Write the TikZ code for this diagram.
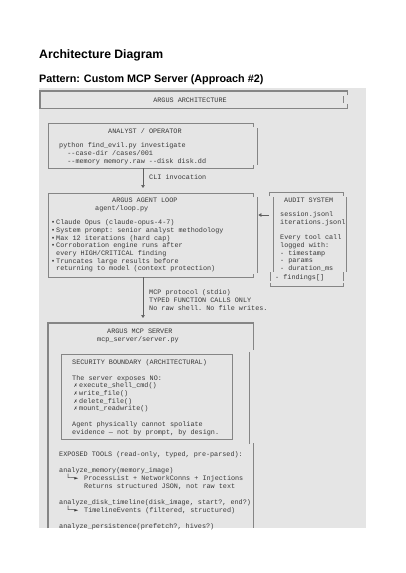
\documentclass[tikz,border=0pt]{standalone}
\usepackage{fontspec}
\setmainfont{Liberation Sans}
\setmonofont{Liberation Mono}
\newfontfamily\glyphfont{DejaVu Sans Mono}
\newfontfamily\markfont{DejaVu Sans}
\usetikzlibrary{arrows.meta}

\definecolor{codebg}{HTML}{E5E5E5}
\definecolor{ink}{HTML}{383838}
\definecolor{rule}{HTML}{858585}

\newlength\chw
\setlength\chw{4.08pt}
\newcommand\xm{\makebox[7pt][c]{{\markfont\fontsize{5}{6}\selectfont ✗}}}
\newcommand\hook{\makebox[25pt][l]{\hspace*{7pt}{\glyphfont └─►}}}

\begin{document}
\begin{tikzpicture}[
    x=1pt, y=-1pt,
    >={Triangle[width=3.6pt,length=3pt]},
    mono/.style={font=\ttfamily\fontsize{6.8}{7.7}\selectfont, text=ink,
        inner sep=0pt, anchor=base west, align=left},
    block/.style={mono, anchor=north west, yshift=5.39pt, execute at begin node=\strut},
    heading/.style={font=\bfseries, text=black, inner sep=0pt, anchor=base west},
    frame/.style={inner sep=0pt, anchor=north west},
    edge/.style={rule, line width=0.6pt},
    heavy/.style={rule, line width=1.7pt},
    flow/.style={->, ink!80, line width=0.6pt, shorten >=5pt}
]
    \useasboundingbox (0,0) rectangle (405,573);

    % Page headings
    \node[heading, font=\bfseries\fontsize{12.2}{14}\selectfont] (pagetitle) at (39,58) {Architecture Diagram};
    \node[heading, font=\bfseries\fontsize{10.8}{13}\selectfont] (pattern) at (39,82) {Pattern: Custom MCP Server (Approach \#2)};

    % Code block background
    \fill[codebg] (39,88) rectangle (366,528);

    % Banner
    \node[frame, minimum width=307pt, minimum height=17pt] (banner) at (40,91) {};
    \draw[heavy] ([yshift=-4pt]banner.north east) -- (banner.north east) -- (banner.north west)
        -- (banner.south west) -- (banner.south east) -- ++(0,-4);
    \draw[heavy] ([xshift=-4pt,yshift=-5pt]banner.north east) -- ([xshift=-4pt,yshift=5pt]banner.south east);
    \node[mono, anchor=base] (bannertext) at (190,102.5) {ARGUS ARCHITECTURE};

    % Analyst / operator
    \node[frame, minimum width=205pt, minimum height=45pt] (analyst) at (48,123) {};
    \draw[edge] ([yshift=-4pt]analyst.north east) -- (analyst.north east) -- (analyst.north west)
        -- (analyst.south west) -- (analyst.south east) -- ++(0,-3);
    \draw[edge] ([xshift=4pt,yshift=-5pt]analyst.north east) -- ([xshift=4pt,yshift=3pt]analyst.south east);
    \node[mono] (analysthead) at (108,133) {ANALYST / OPERATOR};
    \node[block] (analystcmd) at (59,148) {python find\_evil.py investigate\\
        \hspace*{2\chw}-{}-case-dir /cases/001\\
        \hspace*{2\chw}-{}-memory memory.raw -{}-disk disk.dd};

    % Agent loop
    \node[frame, minimum width=205pt, minimum height=84pt] (loop) at (48,193) {};
    \draw[edge] ([yshift=-4pt]loop.north east) -- (loop.north east) -- (loop.north west)
        -- (loop.south west) -- (loop.south east) -- ++(0,-3);
    \draw[edge] ([xshift=4pt,yshift=-4pt]loop.north east) -- ([xshift=4pt,yshift=4pt]loop.south east);
    \node[mono] (loophead) at (112,202) {ARGUS AGENT LOOP};
    \node[mono] (loopfile) at (95,210) {agent/loop.py};
    \node[block] (loopnotes) at (51,225) {\makebox[5pt][l]{\textbullet}Claude Opus (claude-opus-4-7)\\
        \makebox[5pt][l]{\textbullet}System prompt: senior analyst methodology\\
        \makebox[5pt][l]{\textbullet}Max 12 iterations (hard cap)\\
        \makebox[5pt][l]{\textbullet}Corroboration engine runs after\\
        \hspace*{5pt}every HIGH/CRITICAL finding\\
        \makebox[5pt][l]{\textbullet}Truncates large results before\\
        \hspace*{5pt}returning to model (context protection)};

    % Audit system
    \node[frame, minimum width=74pt, minimum height=94pt] (audit) at (269,192) {};
    \draw[edge] ([yshift=-4pt]audit.north west) -- (audit.north west) -- (audit.north east) -- ++(0,4);
    \draw[edge] ([xshift=4pt,yshift=-5pt]audit.north west) -- ([xshift=4pt,yshift=14pt]audit.south west);
    \draw[edge] ([xshift=3pt,yshift=-5pt]audit.north east) -- ([xshift=3pt,yshift=14pt]audit.south east);
    \draw[edge] ([xshift=1pt,yshift=14pt]audit.south west) -- ([xshift=1pt,yshift=5pt]audit.south west);
    \draw[edge] ([yshift=14pt]audit.south east) -- ([yshift=5pt]audit.south east);
    \draw[edge] ([xshift=1pt,yshift=3pt]audit.south west) -- ([xshift=1pt]audit.south west)
        -- (audit.south east) -- ++(0,-3);
    \node[mono] (audithead) at (284,202) {AUDIT SYSTEM};
    \node[block] (auditlogs) at (280,217) {session.jsonl\\iterations.jsonl\\[7.7pt]
        Every tool call\\logged with:\\- timestamp\\- params\\- duration\_ms};
    \node[mono] (auditfind) at (275,279) {- findings[]};

    % MCP server
    \node[frame, minimum width=205pt, minimum height=205pt] (server) at (48,323) {};
    \draw[heavy] (server.south west) -- (server.north west) -- (server.north east) -- ++(0,27);
    \draw[heavy] ([xshift=-4pt,yshift=-29pt]server.north east) -- ([xshift=-4pt,yshift=84pt]server.south east);
    \draw[heavy] ([yshift=85pt]server.south east) -- (server.south east);
    \node[mono] (serverhead) at (107,333) {ARGUS MCP SERVER};
    \node[mono] (serverfile) at (97,341) {mcp\_server/server.py};

    % Security boundary
    \node[frame, draw=rule, line width=0.6pt, minimum width=171pt, minimum height=85pt] (guard) at (61,354) {};
    \node[block] (guardtext) at (72,365) {SECURITY BOUNDARY (ARCHITECTURAL)\\[7.7pt]
        The server exposes NO:\\
        \xm execute\_shell\_cmd()\\
        \xm write\_file()\\
        \xm delete\_file()\\
        \xm mount\_readwrite()\\[7.7pt]
        Agent physically cannot spoliate\\
        evidence — not by prompt, by design.};

    % Exposed tools
    \node[block] (tools) at (59,457) {EXPOSED TOOLS (read-only, typed, pre-parsed):\\[7.7pt]
        analyze\_memory(memory\_image)\\
        \hook ProcessList + NetworkConns + Injections\\
        \hspace*{25pt}Returns structured JSON, not raw text\\[7.7pt]
        analyze\_disk\_timeline(disk\_image, start?, end?)\\
        \hook TimelineEvents (filtered, structured)\\[7.7pt]
        analyze\_persistence(prefetch?, hives?)};

    % Connectors
    \coordinate (stem) at (143,0);
    \coordinate (auditlink) at (0,215);
    \draw[flow] (analyst.south -| stem) -- (loop.north -| stem);
    \node[mono] (clilabel) at (149,179) {CLI invocation};
    \draw[flow] (audit.west |- auditlink) -- (loop.east |- auditlink);
    \draw[flow] (loop.south -| stem) -- (server.north -| stem);
    \node[block] (mcplabel) at (149,295) {MCP protocol (stdio)\\TYPED FUNCTION CALLS ONLY\\No raw shell. No file writes.};

\end{tikzpicture}
\end{document}
